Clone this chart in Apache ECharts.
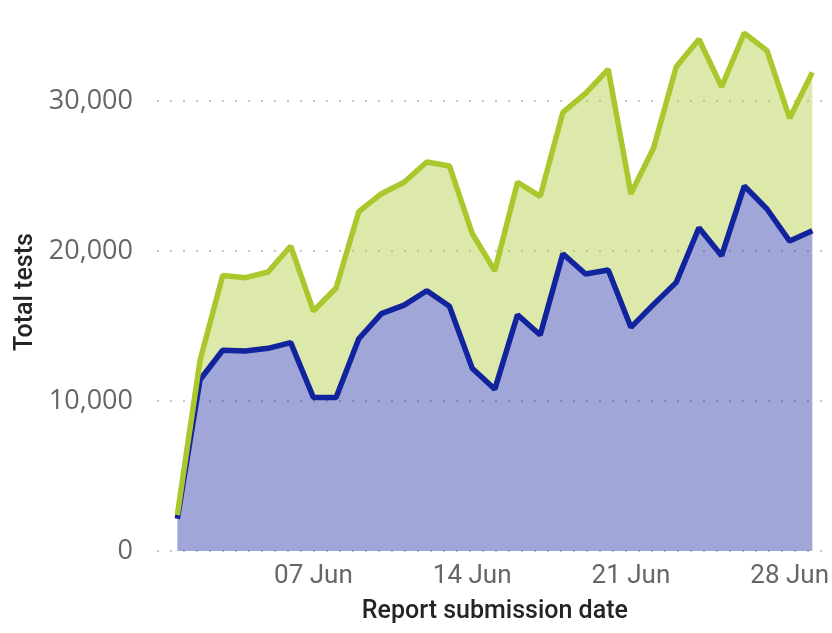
<!DOCTYPE html>
<html>
<head>
<meta charset="utf-8">
<script src="https://cdn.jsdelivr.net/npm/echarts@6/dist/echarts.min.js"></script>
<style>
  html, body { margin: 0; padding: 0; background: #fff; }
  #chart { width: 832px; height: 633px; }
</style>
</head>
<body>
<div id="chart"></div>
<script>
  // report dates, 01 Jun - 29 Jun
  var dates = ['01 Jun', '02 Jun', '03 Jun', '04 Jun', '05 Jun', '06 Jun', '07 Jun', '08 Jun', '09 Jun', '10 Jun',
    '11 Jun', '12 Jun', '13 Jun', '14 Jun', '15 Jun', '16 Jun', '17 Jun', '18 Jun', '19 Jun', '20 Jun',
    '21 Jun', '22 Jun', '23 Jun', '24 Jun', '25 Jun', '26 Jun', '27 Jun', '28 Jun', '29 Jun'];

  // lower (blue) layer
  var lowerTests = [2150, 11420, 13380, 13330, 13510, 13890, 10230, 10230, 14150, 15830,
    16390, 17350, 16310, 12190, 10790, 15750, 14400, 19820, 18470, 18730,
    14910, 16440, 17910, 21550, 19690, 24330, 22800, 20660, 21350];

  // upper (green) layer, stacked on top of the blue one
  var upperTests = [250, 1280, 4990, 4890, 5090, 6440, 5770, 7300, 8470, 7990,
    8190, 8580, 9360, 8980, 7890, 8830, 9240, 9420, 12040, 13380,
    8910, 10430, 14380, 12570, 11250, 10200, 10560, 8190, 10560];

  var xTicks = ['07 Jun', '14 Jun', '21 Jun', '28 Jun'];

  var blue = '#12239e';
  var green = '#aac82d';

  var chart = echarts.init(document.getElementById('chart'));
  chart.setOption({
    animation: false,
    grid: [
      { left: 166, right: 8, top: 11, bottom: 82 },
      // wider grid only for the dotted gridlines
      { left: 157, right: 0, top: 11, bottom: 82 }
    ],
    xAxis: [{
      type: 'category',
      data: dates,
      boundaryGap: true,
      axisLine: { show: false },
      axisTick: { show: false },
      splitLine: { show: false },
      axisLabel: {
        interval: function (i, v) { return xTicks.indexOf(v) >= 0; },
        color: '#666666',
        fontFamily: 'Roboto',
        fontSize: 26,
        margin: 12
      },
      name: 'Report submission date',
      nameLocation: 'middle',
      nameGap: 48,
      nameTextStyle: { color: '#252423', fontFamily: 'Roboto', fontSize: 25, fontWeight: 500 }
    }, {
      gridIndex: 1,
      type: 'value',
      show: false
    }],
    yAxis: [{
      type: 'value',
      min: 0,
      max: 36000,
      interval: 10000,
      axisLine: { show: false },
      axisTick: { show: false },
      axisLabel: {
        showMaxLabel: false,
        formatter: function (v) { return v.toLocaleString('en-US'); },
        color: '#666666',
        fontFamily: 'Open Sans',
        fontSize: 27,
        margin: 33
      },
      splitLine: { show: false }
    }, {
      gridIndex: 1,
      type: 'value',
      min: 0,
      max: 36000,
      interval: 10000,
      axisLine: { show: false },
      axisTick: { show: false },
      axisLabel: { show: false },
      splitLine: {
        showMaxLine: false,
        lineStyle: { color: '#c8c8c8', width: 2, type: [2, 11] }
      }
    }],
    graphic: [{
      type: 'text',
      rotation: Math.PI / 2,
      x: 13,
      y: 351,
      style: {
        text: 'Total tests',
        fill: '#252423',
        font: '500 25px Roboto'
      }
    }],
    series: [
      {
        name: 'Lower',
        type: 'line',
        stack: 'total',
        data: lowerTests,
        showSymbol: false,
        lineStyle: { color: blue, width: 5.5 },
        itemStyle: { color: blue },
        areaStyle: { color: blue, opacity: 0.4 }
      },
      {
        name: 'Upper',
        type: 'line',
        stack: 'total',
        data: upperTests,
        showSymbol: false,
        lineStyle: { color: green, width: 5.5 },
        itemStyle: { color: green },
        areaStyle: { color: green, opacity: 0.4 }
      }
    ]
  });
</script>
</body>
</html>
